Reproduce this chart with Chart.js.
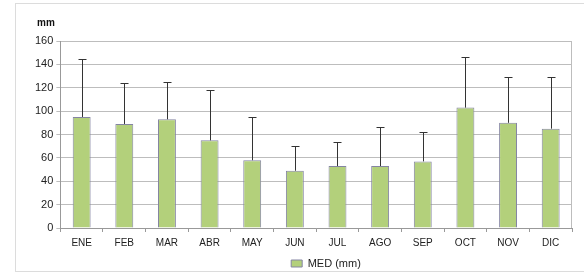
<!DOCTYPE html>
<html>
<head>
<meta charset="utf-8">
<script src="https://cdn.jsdelivr.net/npm/chart.js@4/dist/chart.umd.min.js"></script>
<style>
  html, body { margin: 0; padding: 0; background: #fff; }
  #wrap { width: 584px; height: 273px; position: relative; }
</style>
</head>
<body>
<div id="wrap"><canvas id="rainChart" width="584" height="273"></canvas></div>
<script>
// monthly rainfall, mean and upper deviation (mm)
const months = ["ENE", "FEB", "MAR", "ABR", "MAY", "JUN", "JUL", "AGO", "SEP", "OCT", "NOV", "DIC"];
const medValues = [95, 89, 93, 75, 58, 49, 53, 53, 57, 103, 90, 85];
const devValues = [50, 35, 32, 43, 37, 21, 21, 33, 25, 43, 39, 44];
const yTicks = [0, 20, 40, 60, 80, 100, 120, 140, 160];

const FONT = "'Liberation Sans', Arial, sans-serif";

// outer frame, "mm" unit label, right side of the plot box
const framePlugin = {
  id: "frame",
  beforeDraw(chart) {
    const ctx = chart.ctx;
    ctx.save();
    ctx.fillStyle = "#fff";
    ctx.fillRect(0, 0, chart.width, chart.height);
    ctx.strokeStyle = "#dcdcdc";
    ctx.lineWidth = 1;
    ctx.strokeRect(15.5, 3.5, chart.width, 268);
    ctx.fillStyle = "#111";
    ctx.font = "bold 10px " + FONT;
    ctx.textBaseline = "middle";
    ctx.fillText("mm", 37, 23);
    ctx.restore();
  },
  afterDraw(chart) {
    const ctx = chart.ctx, a = chart.chartArea;
    ctx.save();
    ctx.strokeStyle = "#bdbdbd";
    ctx.lineWidth = 1;
    ctx.beginPath();
    ctx.moveTo(Math.round(a.right) - 0.5, a.top);
    ctx.lineTo(Math.round(a.right) - 0.5, a.bottom);
    ctx.stroke();
    ctx.restore();
  },
  afterLayout(chart) {
    // move the legend under the right half, like the original
    const lg = chart.legend;
    const dx = 326 - (lg.left + lg.right) / 2;
    lg.left += dx;
    lg.right += dx;
    const dy = 252 - lg.top;
    lg.top += dy;
    lg.bottom += dy;
  }
};

// upper error bars
const errorBarPlugin = {
  id: "errorBars",
  afterDatasetsDraw(chart) {
    const ctx = chart.ctx;
    const x = chart.scales.x, y = chart.scales.y;
    ctx.save();
    ctx.strokeStyle = "#333";
    ctx.lineWidth = 1;
    medValues.forEach((v, i) => {
      const px = Math.round(x.getPixelForValue(i)) + 0.5;
      const yBase = y.getPixelForValue(v);
      const yTop = Math.round(y.getPixelForValue(v + devValues[i])) + 0.5;
      ctx.beginPath();
      ctx.moveTo(px, yBase);
      ctx.lineTo(px, yTop);
      ctx.moveTo(px - 4, yTop);
      ctx.lineTo(px + 4, yTop);
      ctx.stroke();
    });
    ctx.restore();
  }
};

new Chart(document.getElementById("rainChart"), {
  type: "bar",
  data: {
    labels: months,
    datasets: [{
      label: "MED (mm)",
      data: medValues,
      backgroundColor: "#b3d07b",
      borderColor: "#8585a3",
      borderWidth: 1,
      barPercentage: 0.42,
      categoryPercentage: 1
    }]
  },
  options: {
    responsive: false,
    animation: false,
    layout: { padding: { left: 32, right: 12, top: 41, bottom: -8 } },
    plugins: {
      tooltip: { enabled: false },
      legend: {
        position: "bottom",
        labels: {
          boxWidth: 11,
          boxHeight: 7,
          padding: 6,
          color: "#222",
          font: { family: FONT, size: 11 }
        }
      }
    },
    scales: {
      x: {
        grid: {
          offset: true,
          drawOnChartArea: false,
          tickLength: 4,
          color: "#999"
        },
        border: { color: "#999" },
        ticks: {
          color: "#222",
          padding: 5,
          maxRotation: 0,
          font: { family: FONT, size: 10 }
        }
      },
      y: {
        min: 0,
        max: 160,
        afterBuildTicks(axis) { axis.ticks = yTicks.map(v => ({ value: v })); },
        grid: { color: "#bdbdbd", tickLength: 4 },
        border: { color: "#999" },
        ticks: {
          color: "#222",
          padding: 3,
          font: { family: FONT, size: 11 }
        }
      }
    }
  },
  plugins: [framePlugin, errorBarPlugin]
});
</script>
</body>
</html>
